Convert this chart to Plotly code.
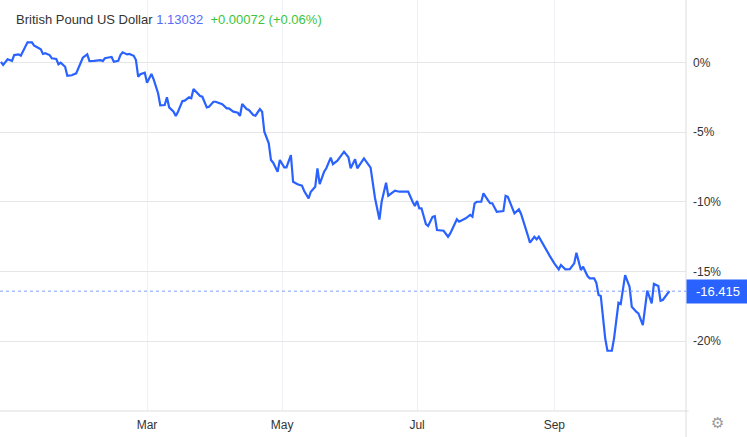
import plotly.graph_objects as go

dates = [
    "2021-12-25", "2021-12-26", "2021-12-28", "2021-12-30", "2021-12-31",
    "2022-01-02", "2022-01-03", "2022-01-04", "2022-01-06", "2022-01-08",
    "2022-01-09", "2022-01-10", "2022-01-12", "2022-01-13", "2022-01-14",
    "2022-01-16", "2022-01-17", "2022-01-19", "2022-01-20", "2022-01-21",
    "2022-01-23", "2022-01-24", "2022-01-26", "2022-01-28", "2022-01-29",
    "2022-01-30", "2022-01-31", "2022-02-02", "2022-02-03", "2022-02-05",
    "2022-02-06", "2022-02-08", "2022-02-09", "2022-02-10", "2022-02-11",
    "2022-02-13", "2022-02-14", "2022-02-16", "2022-02-17", "2022-02-18",
    "2022-02-20", "2022-02-21", "2022-02-23", "2022-02-24", "2022-02-25",
    "2022-02-26", "2022-02-28", "2022-03-01", "2022-03-03", "2022-03-04",
    "2022-03-06", "2022-03-07", "2022-03-09", "2022-03-10", "2022-03-11",
    "2022-03-13", "2022-03-14", "2022-03-15", "2022-03-17", "2022-03-18",
    "2022-03-20", "2022-03-21", "2022-03-22", "2022-03-24", "2022-03-25",
    "2022-03-26", "2022-03-28", "2022-03-29", "2022-03-31", "2022-04-01",
    "2022-04-03", "2022-04-04", "2022-04-06", "2022-04-07", "2022-04-09",
    "2022-04-11", "2022-04-12", "2022-04-13", "2022-04-15", "2022-04-16",
    "2022-04-18", "2022-04-19", "2022-04-21", "2022-04-22", "2022-04-23",
    "2022-04-25", "2022-04-26", "2022-04-27", "2022-04-29", "2022-04-30",
    "2022-05-02", "2022-05-03", "2022-05-05", "2022-05-06", "2022-05-08",
    "2022-05-10", "2022-05-11", "2022-05-13", "2022-05-14", "2022-05-16",
    "2022-05-17", "2022-05-18", "2022-05-20", "2022-05-21", "2022-05-23",
    "2022-05-24", "2022-05-26", "2022-05-27", "2022-05-29", "2022-05-31",
    "2022-06-01", "2022-06-03", "2022-06-04", "2022-06-07", "2022-06-10",
    "2022-06-12", "2022-06-14", "2022-06-15", "2022-06-17", "2022-06-18",
    "2022-06-21", "2022-06-23", "2022-06-27", "2022-06-29", "2022-06-30",
    "2022-07-01", "2022-07-02", "2022-07-03", "2022-07-05", "2022-07-06",
    "2022-07-08", "2022-07-09", "2022-07-10", "2022-07-13", "2022-07-15",
    "2022-07-16", "2022-07-18", "2022-07-19", "2022-07-20", "2022-07-22",
    "2022-07-23", "2022-07-25", "2022-07-26", "2022-07-27", "2022-07-28",
    "2022-07-30", "2022-07-31", "2022-08-02", "2022-08-03", "2022-08-04",
    "2022-08-06", "2022-08-09", "2022-08-10", "2022-08-11", "2022-08-14",
    "2022-08-16", "2022-08-17", "2022-08-20", "2022-08-21", "2022-08-23",
    "2022-08-24", "2022-08-25", "2022-08-27", "2022-08-28", "2022-08-30",
    "2022-09-01", "2022-09-03", "2022-09-04", "2022-09-06", "2022-09-08",
    "2022-09-10", "2022-09-11", "2022-09-13", "2022-09-14", "2022-09-16",
    "2022-09-17", "2022-09-19", "2022-09-20", "2022-09-21", "2022-09-22",
    "2022-09-24", "2022-09-25", "2022-09-27", "2022-09-28", "2022-09-30",
    "2022-10-01", "2022-10-02", "2022-10-03", "2022-10-05", "2022-10-06",
    "2022-10-08", "2022-10-09", "2022-10-11", "2022-10-12", "2022-10-13",
    "2022-10-15", "2022-10-16", "2022-10-18", "2022-10-19", "2022-10-20",
    "2022-10-22", "2022-10-23",
]

pct_change = [
    0.04, -0.19, 0.22, 0.11, 0.52,
    0.57, 0.47, 0.81, 1.43, 1.43,
    1.19, 1.12, 0.93, 0.60, 0.65,
    0.52, 0.29, 0.24, -0.14, -0.03,
    -0.32, -0.96, -0.93, -0.79, -0.39,
    0.04, 0.33, 0.57, 0.09, 0.11,
    0.11, 0.16, 0.09, 0.29, 0.33,
    0.38, 0.04, 0.11, 0.52, 0.72,
    0.57, 0.60, 0.47, 0.16, -1.03,
    -0.86, -0.75, -1.46, -0.84, -1.22,
    -2.22, -3.08, -3.06, -2.51, -3.23,
    -3.54, -3.85, -3.54, -2.78, -2.75,
    -2.51, -2.58, -1.92, -2.22, -2.42,
    -2.47, -3.23, -3.19, -2.83, -2.83,
    -2.94, -3.01, -3.30, -3.30, -3.54,
    -3.62, -3.85, -2.99, -3.35, -3.42,
    -3.78, -3.83, -3.35, -3.54, -4.98,
    -5.81, -7.01, -7.20, -7.85, -7.01,
    -7.53, -7.53, -6.65, -8.57, -8.75,
    -8.85, -9.23, -9.76, -9.28, -8.92,
    -7.60, -8.73, -7.85, -7.60, -6.84,
    -7.30, -7.06, -6.84, -6.41, -6.81,
    -7.60, -6.96, -7.60, -6.89, -7.55,
    -9.73, -11.28, -10.00, -8.64, -9.57,
    -9.21, -9.28, -9.28, -10.00, -10.31,
    -9.95, -10.47, -10.47, -11.60, -11.74,
    -11.08, -11.03, -12.03, -12.08, -12.51,
    -12.27, -11.55, -11.26, -11.43, -11.26,
    -11.19, -10.95, -11.08, -10.11, -10.00,
    -10.00, -9.40, -9.88, -10.11, -10.11,
    -10.72, -10.67, -9.57, -9.64, -10.83,
    -10.55, -10.88, -12.39, -12.94, -12.51,
    -12.70, -12.51, -13.11, -13.41, -13.90,
    -14.42, -14.85, -14.54, -14.85, -14.83,
    -14.42, -13.66, -14.90, -14.66, -15.33,
    -15.49, -15.49, -15.81, -16.69, -16.76,
    -19.80, -20.69, -20.69, -19.80, -17.25,
    -17.34, -16.21, -15.26, -16.10, -17.53,
    -17.89, -18.01, -18.85, -17.77, -16.38,
    -17.29, -15.90, -16.05, -17.10, -17.05,
    -16.57, -16.415,
]

x_tick_dates = ["2022-03-01", "2022-05-01", "2022-07-01", "2022-09-01"]
x_tick_labels = ["Mar", "May", "Jul", "Sep"]
y_tick_values = [0, -5, -10, -15, -20]
y_tick_labels = ["0%", "-5%", "-10%", "-15%", "-20%"]

title_name = "British Pound US Dollar"
last_price = "1.13032"
price_change = "+0.00072 (+0.06%)"
last_pct = pct_change[-1]

LINE = "#2962ff"
FONT = "Liberation Sans, Arial, sans-serif"

fig = go.Figure()
fig.add_trace(go.Scatter(
    x=dates, y=pct_change, mode="lines",
    line=dict(color=LINE, width=2.2),
    hoverinfo="skip", showlegend=False,
))

fig.update_layout(
    width=747, height=437,
    margin=dict(l=0, r=61, t=0, b=26),
    paper_bgcolor="white", plot_bgcolor="white",
    font=dict(family=FONT, size=12, color="#333333"),
    xaxis=dict(
        type="date",
        range=["2021-12-24 14:00", "2022-10-30 12:00"],
        tickvals=x_tick_dates, ticktext=x_tick_labels,
        showgrid=True, gridcolor="#eef1f5", gridwidth=1,
        zeroline=False, showline=False, ticks="",
        ticklabelstandoff=5,
        tickfont=dict(size=12, color="#333333"),
    ),
    yaxis=dict(
        side="right",
        range=[-25.01, 4.47],
        tickvals=y_tick_values, ticktext=y_tick_labels,
        showgrid=True, gridcolor="#e6e6e6", gridwidth=1,
        zeroline=False, showline=False, ticks="",
        ticklabelstandoff=6,
        tickfont=dict(size=12, color="#333333"),
    ),
)

# right axis border and bottom border
fig.add_shape(type="line", xref="paper", yref="paper", x0=1, x1=1, y0=-0.07, y1=1,
              line=dict(color="#dddddd", width=1))
fig.add_shape(type="line", xref="paper", yref="paper", x0=0, x1=1.004, y0=0, y1=0,
              line=dict(color="#dddddd", width=1))
# last value dotted line
fig.add_shape(type="line", xref="paper", yref="y", x0=0, x1=1, y0=last_pct, y1=last_pct,
              line=dict(color="#7f9fff", width=1, dash="dot"))

fig.add_annotation(
    xref="paper", yref="y", x=1, y=last_pct, xanchor="left", yanchor="middle",
    text=f"{last_pct:.3f}", showarrow=False, xshift=0,
    bgcolor=LINE, font=dict(color="white", size=13, family=FONT),
    width=58, height=19, borderpad=2,
)

fig.add_annotation(
    xref="paper", yref="paper", x=0, y=1, xanchor="left", yanchor="top",
    xshift=14, yshift=-10, showarrow=False,
    text=(f"{title_name} <span style='color:#5a6cf4'>{last_price}</span>&nbsp;&nbsp;"
          f"<span style='color:#3cc43c'>{price_change}</span>"),
    font=dict(size=13, color="#333333", family=FONT),
)

fig.add_annotation(
    xref="paper", yref="paper", x=1, y=0, xanchor="center", yanchor="middle",
    xshift=31, yshift=-12, showarrow=False, text="⚙",
    font=dict(size=15, color="#999999", family="DejaVu Sans"),
)

fig.write_html("out.html", post_script="document.body.style.margin='0';",
               config={"displayModeBar": False})
